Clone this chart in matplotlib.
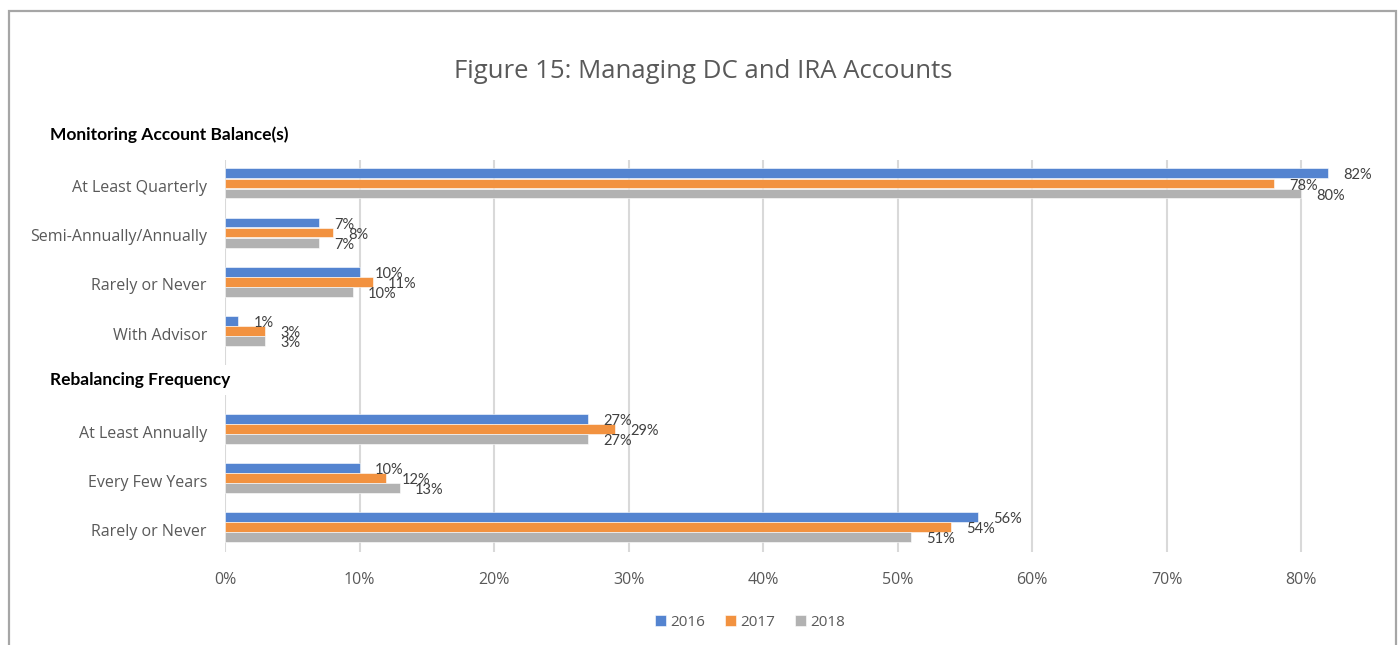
import matplotlib.pyplot as plt
from matplotlib.patches import Rectangle
from matplotlib.ticker import FuncFormatter

# --- data ---
section_titles = ["Monitoring Account Balance(s)", "Rebalancing Frequency"]
monitoring_cats = ["At Least Quarterly", "Semi-Annually/Annually", "Rarely or Never", "With Advisor"]
rebalancing_cats = ["At Least Annually", "Every Few Years", "Rarely or Never"]
years = ["2016", "2017", "2018"]

monitoring_2016 = [0.82, 0.07, 0.10, 0.01]
monitoring_2017 = [0.78, 0.08, 0.11, 0.03]
monitoring_2018 = [0.80, 0.07, 0.095, 0.03]

rebalancing_2016 = [0.27, 0.10, 0.56]
rebalancing_2017 = [0.29, 0.12, 0.54]
rebalancing_2018 = [0.27, 0.13, 0.51]

x_ticks = [0, 0.1, 0.2, 0.3, 0.4, 0.5, 0.6, 0.7, 0.8]

colors = ["#5484D0", "#F29240", "#B2B2B2"]
tick_color = "#595959"
label_color = "#404040"

W, H = 1398, 645
fig = plt.figure(figsize=(W / 100, H / 100), dpi=100)

# outer frame
fig.patches.append(Rectangle((9 / W, -0.01), (1396 - 9) / W, 1 - 11 / H + 0.01,
                             transform=fig.transFigure, fill=False,
                             edgecolor="#A6A6A6", linewidth=1.6))

fig.text(703 / W, 1 - 71 / H, "Figure 15: Managing DC and IRA Accounts",
         ha="center", va="center", fontsize=18.5, color=tick_color, family="Open Sans")

# plot area: x=0 at px 225, 80% at px 1301
left_px, right_px = 225, 1395
px_per_unit = (1301 - 225) / 0.8
ax = fig.add_axes([left_px / W, 1 - 552 / H, (right_px - left_px) / W, (552 - 160) / H])
ax.set_xlim(0, (right_px - left_px) / px_per_unit)

# slots: 0 = header, 1-4 monitoring, 5 = header, 6-8 rebalancing
slot_px = (530 - 137) / 8
ax.set_ylim(8 + (552 - 530) / slot_px, (160 - 137) / slot_px)

series = [
    (monitoring_2016, rebalancing_2016),
    (monitoring_2017, rebalancing_2017),
    (monitoring_2018, rebalancing_2018),
]
mon_pos = [1, 2, 3, 4]
reb_pos = [6, 7, 8]
bar_h = 0.2
offsets = [-0.26, -0.055, 0.15]

for k, (mon, reb) in enumerate(series):
    ys = [p + offsets[k] for p in mon_pos + reb_pos]
    vals = mon + reb
    ax.barh(ys, vals, height=bar_h, color=colors[k], label=years[k],
            edgecolor="white", linewidth=0.4, zorder=3)
    for y, v in zip(ys, vals):
        ax.annotate(f"{round(v * 100):.0f}%", (v, y), xytext=(11, -1.5),
                    textcoords="offset points", ha="left", va="center",
                    fontsize=10.5, color=label_color, family="Lato",
                    annotation_clip=False, zorder=4)

ax.set_yticks(mon_pos + reb_pos)
ax.set_yticklabels(monitoring_cats + rebalancing_cats)
ax.set_xticks(x_ticks)
ax.xaxis.set_major_formatter(FuncFormatter(lambda v, _: f"{v * 100:.0f}%"))
ax.tick_params(axis="both", length=0, labelsize=11.5, labelcolor=tick_color)
ax.tick_params(axis="x", pad=14.5)
ax.tick_params(axis="y", pad=13)
for lab in ax.get_xticklabels() + ax.get_yticklabels():
    lab.set_family("Open Sans")

ax.grid(axis="x", color="#D9D9D9", linewidth=1.5, zorder=0)
for s in ax.spines.values():
    s.set_visible(False)

# section headers
ax.text(50 / W, 1 - 135 / H, section_titles[0], transform=fig.transFigure,
        ha="left", va="center", fontsize=12.5, fontweight="bold", color="black",
        family="Lato")
ax.text(50 / W, 1 - 380 / H, section_titles[1], transform=fig.transFigure,
        ha="left", va="center", fontsize=12.5, fontweight="bold", color="black",
        family="Lato", zorder=5,
        bbox=dict(facecolor="white", edgecolor="none", pad=5))

fig.legend(*ax.get_legend_handles_labels(), loc="center", bbox_to_anchor=(750 / W, 1 - 622 / H),
           ncol=3, frameon=False, handlelength=0.7, handleheight=0.7, handletextpad=0.3,
           columnspacing=1.3, prop={"family": "Open Sans", "size": 11},
           labelcolor=tick_color)

fig.savefig("out.png", dpi=100)
